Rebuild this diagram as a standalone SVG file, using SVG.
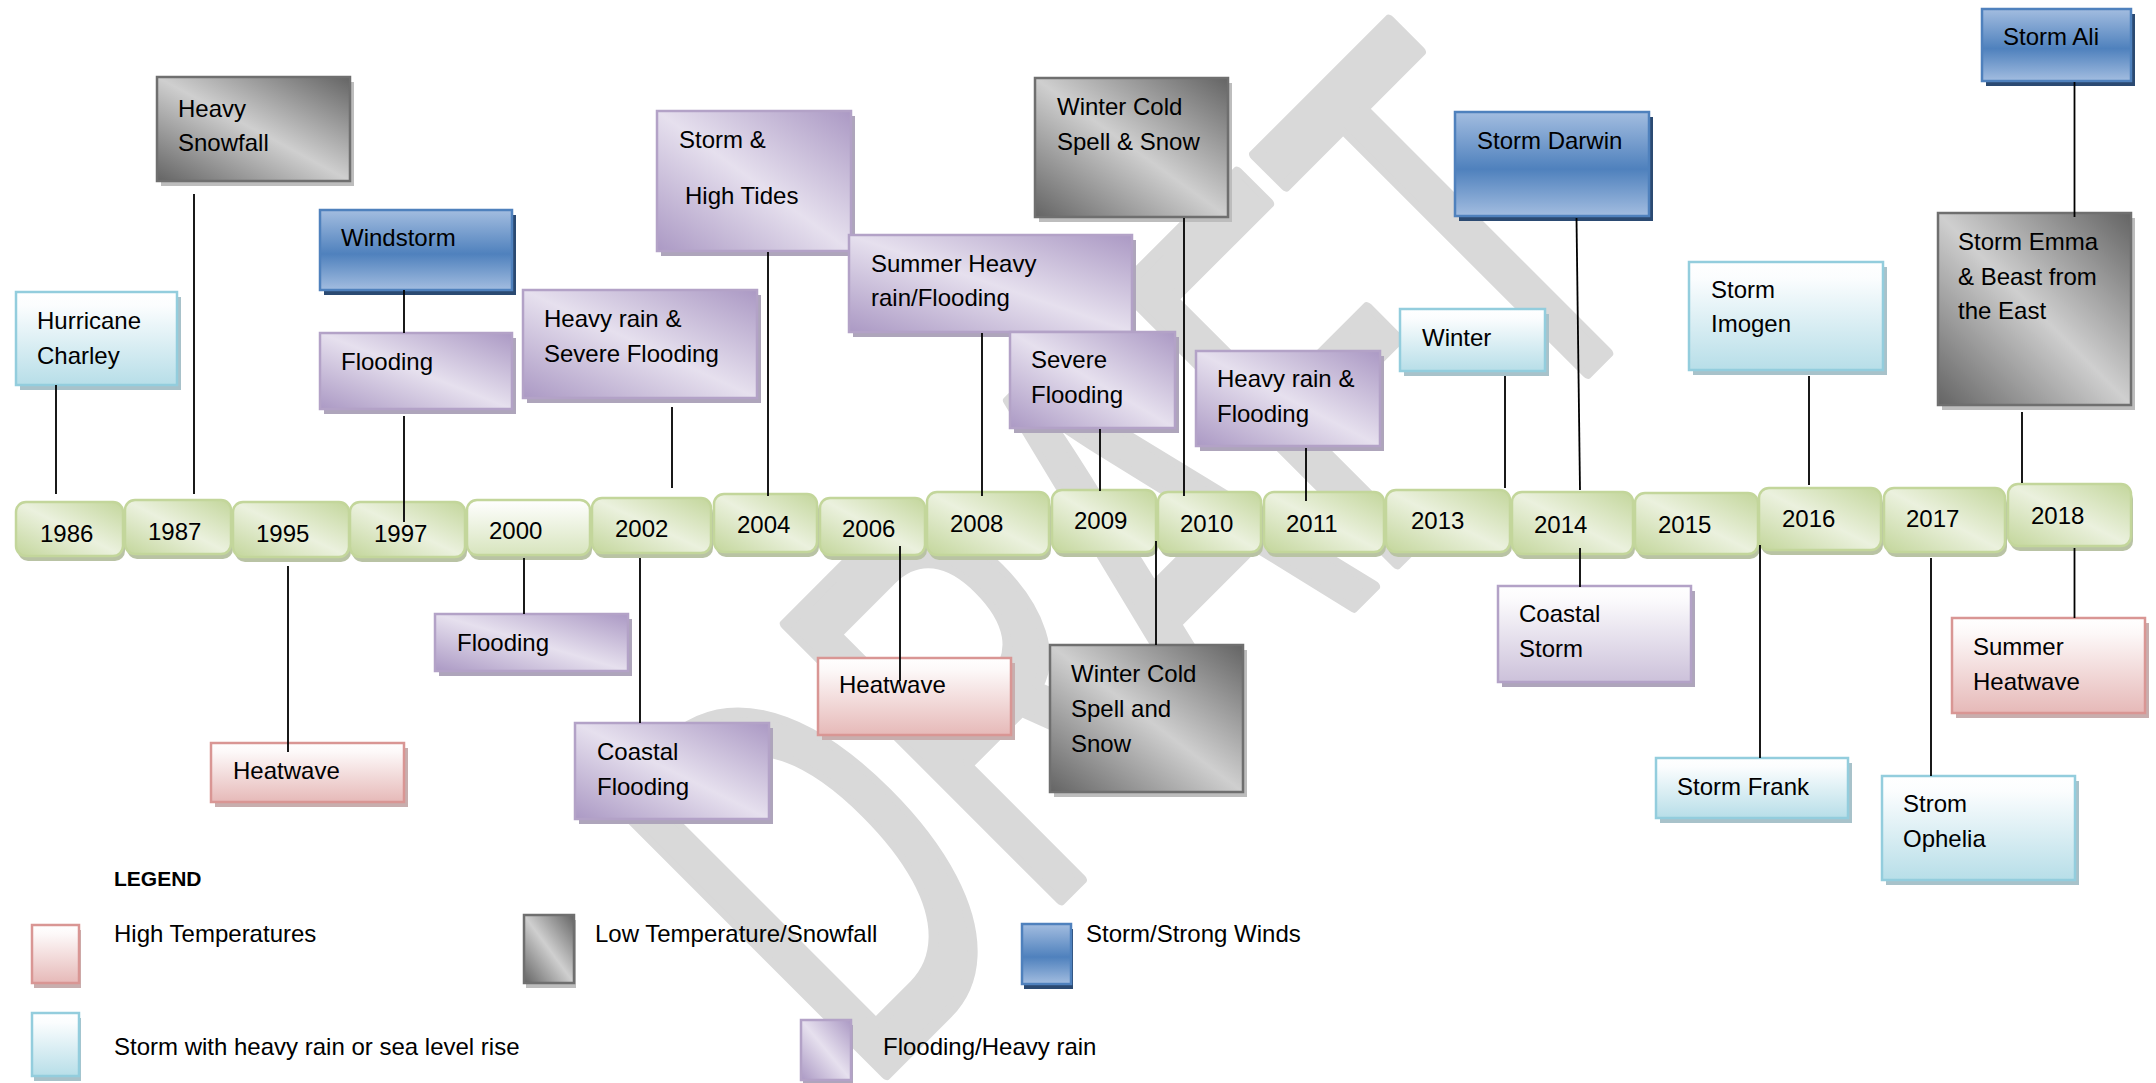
<svg xmlns="http://www.w3.org/2000/svg" width="2156" height="1083" viewBox="0 0 2156 1083">
<defs>
<linearGradient id="gLB" x1="0" y1="0" x2="0" y2="1"><stop offset="0" stop-color="#ffffff"/><stop offset="0.15" stop-color="#fbfdfe"/><stop offset="1" stop-color="#b7dee8"/></linearGradient>
<linearGradient id="gPK" x1="0" y1="0" x2="0" y2="1"><stop offset="0" stop-color="#ffffff"/><stop offset="0.15" stop-color="#fdf9f9"/><stop offset="1" stop-color="#e6b9b8"/></linearGradient>
<linearGradient id="gPV" x1="0" y1="0" x2="0" y2="1"><stop offset="0" stop-color="#ffffff"/><stop offset="0.15" stop-color="#fbfafc"/><stop offset="1" stop-color="#ccc1da"/></linearGradient>
<linearGradient id="gBL" x1="0" y1="0" x2="0" y2="1"><stop offset="0" stop-color="#a3bde0"/><stop offset="0.55" stop-color="#4f81bd"/><stop offset="1" stop-color="#a3bde0"/></linearGradient>
<linearGradient id="gGY" x1="1" y1="0" x2="0" y2="1"><stop offset="0" stop-color="#646464"/><stop offset="0.5" stop-color="#cfcfcf"/><stop offset="1" stop-color="#646464"/></linearGradient>
<linearGradient id="gPU" x1="1" y1="0" x2="0" y2="1"><stop offset="0" stop-color="#ab99c4"/><stop offset="0.5" stop-color="#e6e0ee"/><stop offset="1" stop-color="#ab99c4"/></linearGradient>
<linearGradient id="gGR" x1="1" y1="0" x2="0" y2="1"><stop offset="0" stop-color="#c3d69b"/><stop offset="0.5" stop-color="#ebf1de"/><stop offset="1" stop-color="#c3d69b"/></linearGradient>
<linearGradient id="gGV" x1="0" y1="0" x2="0" y2="1"><stop offset="0" stop-color="#ffffff"/><stop offset="1" stop-color="#d7e4bd"/></linearGradient>
</defs>
<style>
.t{font-family:'Liberation Sans',Arial,sans-serif;font-size:24px;fill:#000}
.b{font-weight:bold;font-size:21px}
.ln{stroke:#000;stroke-width:1.8;fill:none}
.lb{fill:url(#gLB);stroke:#93cddd;stroke-width:2.5}
.pk{fill:url(#gPK);stroke:#d99694;stroke-width:2.5}
.pv{fill:url(#gPV);stroke:#b3a2c7;stroke-width:2.5}
.bl{fill:url(#gBL);stroke:#4f81bd;stroke-width:2.5}
.gy{fill:url(#gGY);stroke:#6f6f6f;stroke-width:2.5}
.pu{fill:url(#gPU);stroke:#b3a2c7;stroke-width:2.5}
.yr{fill:url(#gGR);stroke:#c3d69b;stroke-width:2.5}
.yv{fill:url(#gGV);stroke:#c3d69b;stroke-width:2.5}
.s-lb{fill:#a8c2ca}
.s-pk{fill:#c8aeae}
.s-pu{fill:#aea5bb}
.s-bl{fill:#2b4a72}
.s-gy{fill:#bdbdbd}
.s-yr{fill:#b9c3a4}
.wm{font-family:'Liberation Sans',Arial,sans-serif;font-size:565px;fill:#d9d9d9;stroke:#d9d9d9;stroke-width:12;stroke-linejoin:round}
</style>
<rect width="2156" height="1083" fill="#ffffff"/>
<g id="watermark"><text class="wm" transform="translate(865,1095) rotate(-45)" textLength="1140" lengthAdjust="spacingAndGlyphs">DRAFT</text></g>

<g id="timeline">
<g id="y1986"><rect class="s-yr" x="18" y="507" width="107" height="54" rx="10"/><rect class="yr" x="16" y="502" width="107" height="54" rx="10"/><text class="t" x="40" y="542">1986</text></g>
<g id="y1987"><rect class="s-yr" x="127" y="505" width="106" height="54" rx="10"/><rect class="yr" x="125" y="500" width="106" height="54" rx="10"/><text class="t" x="148" y="540">1987</text></g>
<g id="y1995"><rect class="s-yr" x="235" y="507" width="116" height="55" rx="10"/><rect class="yr" x="233" y="502" width="116" height="55" rx="10"/><text class="t" x="256" y="542">1995</text></g>
<g id="y1997"><rect class="s-yr" x="352" y="507" width="115" height="55" rx="10"/><rect class="yr" x="350" y="502" width="115" height="55" rx="10"/><text class="t" x="374" y="542">1997</text></g>
<g id="y2000"><rect class="s-yr" x="469" y="505" width="123" height="55" rx="10"/><rect class="yv" x="467" y="500" width="123" height="55" rx="10"/><text class="t" x="489" y="539">2000</text></g>
<g id="y2002"><rect class="s-yr" x="594" y="503" width="119" height="55" rx="10"/><rect class="yr" x="592" y="498" width="119" height="55" rx="10"/><text class="t" x="615" y="537">2002</text></g>
<g id="y2004"><rect class="s-yr" x="716" y="499" width="103" height="58" rx="10"/><rect class="yr" x="714" y="494" width="103" height="58" rx="10"/><text class="t" x="737" y="533">2004</text></g>
<g id="y2006"><rect class="s-yr" x="822" y="503" width="105" height="57" rx="10"/><rect class="yr" x="820" y="498" width="105" height="57" rx="10"/><text class="t" x="842" y="537">2006</text></g>
<g id="y2008"><rect class="s-yr" x="929" y="497" width="122" height="63" rx="10"/><rect class="yr" x="927" y="492" width="122" height="63" rx="10"/><text class="t" x="950" y="532">2008</text></g>
<g id="y2009"><rect class="s-yr" x="1054" y="495" width="104" height="62" rx="10"/><rect class="yr" x="1052" y="490" width="104" height="62" rx="10"/><text class="t" x="1074" y="529">2009</text></g>
<g id="y2010"><rect class="s-yr" x="1160" y="497" width="103" height="60" rx="10"/><rect class="yr" x="1158" y="492" width="103" height="60" rx="10"/><text class="t" x="1180" y="532">2010</text></g>
<g id="y2011"><rect class="s-yr" x="1266" y="497" width="120" height="60" rx="10"/><rect class="yr" x="1264" y="492" width="120" height="60" rx="10"/><text class="t" x="1286" y="532">2011</text></g>
<g id="y2013"><rect class="s-yr" x="1388" y="495" width="124" height="62" rx="10"/><rect class="yr" x="1386" y="490" width="124" height="62" rx="10"/><text class="t" x="1411" y="529">2013</text></g>
<g id="y2014"><rect class="s-yr" x="1514" y="497" width="121" height="62" rx="10"/><rect class="yr" x="1512" y="492" width="121" height="62" rx="10"/><text class="t" x="1534" y="533">2014</text></g>
<g id="y2015"><rect class="s-yr" x="1637" y="498" width="123" height="61" rx="10"/><rect class="yr" x="1635" y="493" width="123" height="61" rx="10"/><text class="t" x="1658" y="533">2015</text></g>
<g id="y2016"><rect class="s-yr" x="1761" y="493" width="122" height="62" rx="10"/><rect class="yr" x="1759" y="488" width="122" height="62" rx="10"/><text class="t" x="1782" y="527">2016</text></g>
<g id="y2017"><rect class="s-yr" x="1886" y="493" width="121" height="64" rx="10"/><rect class="yr" x="1884" y="488" width="121" height="64" rx="10"/><text class="t" x="1906" y="527">2017</text></g>
<g id="y2018"><rect class="s-yr" x="2010" y="489" width="123" height="62" rx="10"/><rect class="yr" x="2008" y="484" width="123" height="62" rx="10"/><text class="t" x="2031" y="524">2018</text></g>
</g>

<g id="nodes">
<g id="n-hurricane-charley"><rect class="s-lb" x="20" y="297" width="161" height="93"/><rect class="lb" x="16" y="292" width="161" height="93"/><text class="t" x="37" y="329">Hurricane</text><text class="t" x="37" y="364">Charley</text></g>
<g id="n-heavy-snowfall"><rect class="s-gy" x="161" y="82" width="193" height="104"/><rect class="gy" x="157" y="77" width="193" height="104"/><text class="t" x="178" y="117">Heavy</text><text class="t" x="178" y="151">Snowfall</text></g>
<g id="n-windstorm"><rect class="s-bl" x="324" y="215" width="192" height="80"/><rect class="bl" x="320" y="210" width="192" height="80"/><text class="t" x="341" y="246">Windstorm</text></g>
<g id="n-flooding-1997"><rect class="s-pu" x="324" y="338" width="192" height="76"/><rect class="pu" x="320" y="333" width="192" height="76"/><text class="t" x="341" y="370">Flooding</text></g>
<g id="n-heavy-rain-severe-flooding"><rect class="s-pu" x="527" y="295" width="234" height="108"/><rect class="pu" x="523" y="290" width="234" height="108"/><text class="t" x="544" y="327">Heavy rain &amp;</text><text class="t" x="544" y="362">Severe Flooding</text></g>
<g id="n-storm-high-tides"><rect class="s-pu" x="661" y="116" width="194" height="140"/><rect class="pu" x="657" y="111" width="194" height="140"/><text class="t" x="679" y="148">Storm &amp;</text><text class="t" x="685" y="204">High Tides</text></g>
<g id="n-summer-heavy-rain"><rect class="s-pu" x="853" y="240" width="283" height="97"/><rect class="pu" x="849" y="235" width="283" height="97"/><text class="t" x="871" y="272">Summer Heavy</text><text class="t" x="871" y="306">rain/Flooding</text></g>
<g id="n-severe-flooding"><rect class="s-pu" x="1014" y="337" width="165" height="96"/><rect class="pu" x="1010" y="332" width="165" height="96"/><text class="t" x="1031" y="368">Severe</text><text class="t" x="1031" y="403">Flooding</text></g>
<g id="n-winter-cold-2010"><rect class="s-gy" x="1039" y="83" width="193" height="139"/><rect class="gy" x="1035" y="78" width="193" height="139"/><text class="t" x="1057" y="115">Winter Cold</text><text class="t" x="1057" y="150">Spell &amp; Snow</text></g>
<g id="n-heavy-rain-flooding-2011"><rect class="s-pu" x="1200" y="356" width="184" height="95"/><rect class="pu" x="1196" y="351" width="184" height="95"/><text class="t" x="1217" y="387">Heavy rain &amp;</text><text class="t" x="1217" y="422">Flooding</text></g>
<g id="n-winter-2013"><rect class="s-lb" x="1404" y="314" width="145" height="62"/><rect class="lb" x="1400" y="309" width="145" height="62"/><text class="t" x="1422" y="346">Winter</text></g>
<g id="n-storm-darwin"><rect class="s-bl" x="1459" y="117" width="194" height="104"/><rect class="bl" x="1455" y="112" width="194" height="104"/><text class="t" x="1477" y="149">Storm Darwin</text></g>
<g id="n-storm-imogen"><rect class="s-lb" x="1693" y="267" width="194" height="108"/><rect class="lb" x="1689" y="262" width="194" height="108"/><text class="t" x="1711" y="298">Storm</text><text class="t" x="1711" y="332">Imogen</text></g>
<g id="n-storm-ali"><rect class="s-bl" x="1986" y="14" width="149" height="72"/><rect class="bl" x="1982" y="9" width="149" height="72"/><text class="t" x="2003" y="45">Storm Ali</text></g>
<g id="n-storm-emma"><rect class="s-gy" x="1942" y="218" width="193" height="192"/><rect class="gy" x="1938" y="213" width="193" height="192"/><text class="t" x="1958" y="250">Storm Emma</text><text class="t" x="1958" y="285">&amp; Beast from</text><text class="t" x="1958" y="319">the East</text></g>

<g id="n-heatwave-1995"><rect class="s-pk" x="215" y="748" width="193" height="59"/><rect class="pk" x="211" y="743" width="193" height="59"/><text class="t" x="233" y="779">Heatwave</text></g>
<g id="n-flooding-2000"><rect class="s-pu" x="439" y="619" width="193" height="57"/><rect class="pu" x="435" y="614" width="193" height="57"/><text class="t" x="457" y="651">Flooding</text></g>
<g id="n-coastal-flooding"><rect class="s-pu" x="579" y="728" width="194" height="96"/><rect class="pu" x="575" y="723" width="194" height="96"/><text class="t" x="597" y="760">Coastal</text><text class="t" x="597" y="795">Flooding</text></g>
<g id="n-heatwave-2006"><rect class="s-pk" x="822" y="663" width="193" height="77"/><rect class="pk" x="818" y="658" width="193" height="77"/><text class="t" x="839" y="693">Heatwave</text></g>
<g id="n-winter-cold-spell-snow"><rect class="s-gy" x="1054" y="650" width="193" height="147"/><rect class="gy" x="1050" y="645" width="193" height="147"/><text class="t" x="1071" y="682">Winter Cold</text><text class="t" x="1071" y="717">Spell and</text><text class="t" x="1071" y="752">Snow</text></g>
<g id="n-coastal-storm"><rect class="s-pu" x="1502" y="591" width="193" height="96"/><rect class="pv" x="1498" y="586" width="193" height="96"/><text class="t" x="1519" y="622">Coastal</text><text class="t" x="1519" y="657">Storm</text></g>
<g id="n-storm-frank"><rect class="s-lb" x="1660" y="763" width="192" height="60"/><rect class="lb" x="1656" y="758" width="192" height="60"/><text class="t" x="1677" y="795">Storm Frank</text></g>
<g id="n-strom-ophelia"><rect class="s-lb" x="1886" y="781" width="193" height="104"/><rect class="lb" x="1882" y="776" width="193" height="104"/><text class="t" x="1903" y="812">Strom</text><text class="t" x="1903" y="847">Ophelia</text></g>
<g id="n-summer-heatwave"><rect class="s-pk" x="1956" y="623" width="193" height="95"/><rect class="pk" x="1952" y="618" width="193" height="95"/><text class="t" x="1973" y="655">Summer</text><text class="t" x="1973" y="690">Heatwave</text></g>
</g>

<g id="connectors">
<line class="ln" x1="56" y1="385" x2="56" y2="494"/>
<line class="ln" x1="194" y1="194" x2="194" y2="494"/>
<line class="ln" x1="288" y1="566" x2="288" y2="752"/>
<line class="ln" x1="404" y1="290" x2="404" y2="333"/>
<line class="ln" x1="404" y1="416" x2="404" y2="522"/>
<line class="ln" x1="524" y1="558" x2="524" y2="614"/>
<line class="ln" x1="672" y1="407" x2="672" y2="488"/>
<line class="ln" x1="640" y1="558" x2="640" y2="723"/>
<line class="ln" x1="768" y1="252" x2="768" y2="496"/>
<line class="ln" x1="900" y1="546" x2="900" y2="681"/>
<line class="ln" x1="982" y1="333" x2="982" y2="496"/>
<line class="ln" x1="1100" y1="429" x2="1100" y2="491"/>
<line class="ln" x1="1184" y1="218" x2="1184" y2="496"/>
<line class="ln" x1="1156" y1="541" x2="1156" y2="645"/>
<line class="ln" x1="1306" y1="448" x2="1306" y2="501"/>
<line class="ln" x1="1505" y1="376" x2="1505" y2="488"/>
<line class="ln" x1="1576.5" y1="218" x2="1580" y2="490"/>
<line class="ln" x1="1580" y1="548" x2="1580" y2="587"/>
<line class="ln" x1="1809" y1="376" x2="1809" y2="485"/>
<line class="ln" x1="1760" y1="545" x2="1760" y2="758"/>
<line class="ln" x1="1931" y1="558" x2="1931" y2="776"/>
<line class="ln" x1="2022" y1="412" x2="2022" y2="483"/>
<line class="ln" x1="2074.5" y1="82" x2="2074.5" y2="217"/>
<line class="ln" x1="2074.5" y1="548" x2="2074.5" y2="618"/>
</g>

<g id="legend">
<text class="t b" x="114" y="886">LEGEND</text>
<g id="lg-high-temp"><rect class="s-pk" x="34" y="930" width="47" height="58"/><rect class="pk" x="32" y="925" width="47" height="58"/><text class="t" x="114" y="942">High Temperatures</text></g>
<g id="lg-low-temp"><rect class="s-gy" x="526" y="920" width="50" height="68"/><rect class="gy" x="524" y="915" width="50" height="68"/><text class="t" x="595" y="942">Low Temperature/Snowfall</text></g>
<g id="lg-storm-wind"><rect class="s-bl" x="1024" y="929" width="49" height="60"/><rect class="bl" x="1022" y="924" width="49" height="60"/><text class="t" x="1086" y="942">Storm/Strong Winds</text></g>
<g id="lg-storm-rain"><rect class="s-lb" x="34" y="1018" width="47" height="63"/><rect class="lb" x="32" y="1013" width="47" height="63"/><text class="t" x="114" y="1055">Storm with heavy rain or sea level rise</text></g>
<g id="lg-flooding"><rect class="s-pu" x="803" y="1025" width="50" height="58"/><rect class="pu" x="801" y="1020" width="50" height="60"/><text class="t" x="883" y="1055">Flooding/Heavy rain</text></g>
</g>
</svg>
